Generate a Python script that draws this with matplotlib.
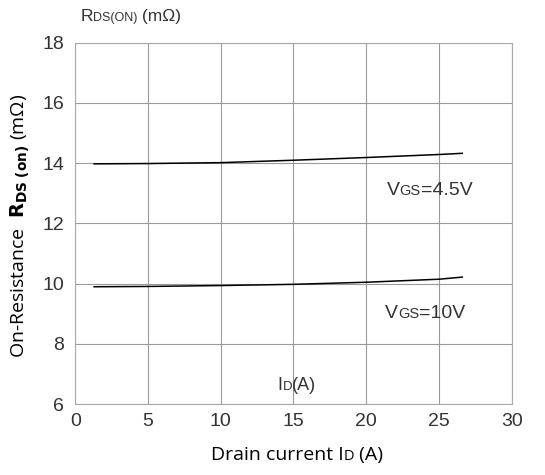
import numpy as np
import matplotlib
matplotlib.use("Agg")
import matplotlib.pyplot as plt
from matplotlib.offsetbox import TextArea, HPacker, AnnotationBbox

# drain current (A) and on-resistance (mOhm) for two gate voltages
id_45 = [1.3, 5, 10, 15, 20, 25, 26.6]
rds_45 = [13.98, 13.99, 14.02, 14.10, 14.19, 14.29, 14.33]
id_10 = [1.3, 5, 10, 15, 20, 25, 26.6]
rds_10 = [9.90, 9.91, 9.94, 9.98, 10.05, 10.15, 10.22]

xticks = [0, 5, 10, 15, 20, 25, 30]
yticks = [6, 8, 10, 12, 14, 16, 18]

plt.rcParams['font.family'] = ['Liberation Sans', 'DejaVu Sans']

fig = plt.figure(figsize=(5.45, 4.75), dpi=100)
ax = fig.add_axes([0.138, 0.149, 0.801, 0.761])

ax.plot(id_45, rds_45, color='black', lw=1.1)
ax.plot(id_10, rds_10, color='black', lw=1.1)

ax.set_xlim(0, 30)
ax.set_ylim(6, 18)
ax.set_xticks(xticks)
ax.set_yticks(yticks)
ax.tick_params(axis='y', length=0, labelsize=14, colors='#333333', pad=8)
ax.tick_params(axis='x', length=0, labelsize=14, colors='#333333', pad=6)
ax.grid(True, color='#9a9a9a', lw=0.8)
for s in ax.spines.values():
    s.set_color('#aaaaaa')
    s.set_linewidth(0.8)


def smallcaps(parts, xy, coords):
    # parts: list of (text, fontsize); packed on one baseline
    boxes = [TextArea(t, textprops=dict(fontsize=fs, color='#333333',
                                         family=['Liberation Sans', 'DejaVu Sans']))
             for t, fs in parts]
    pack = HPacker(children=boxes, align='baseline', pad=0, sep=0)
    ab = AnnotationBbox(pack, xy, xycoords=coords, frameon=False,
                        box_alignment=(0, 0.5), annotation_clip=False)
    ax.add_artist(ab)


smallcaps([('R', 12.5), ('DS(ON)', 9), (' (mΩ)', 12.5)], (0.012, 1.072), 'axes fraction')
smallcaps([('V', 14), ('GS', 10.5), ('=4.5V', 14)], (21.4, 13.1), 'data')
smallcaps([('V', 14), ('GS', 10.5), ('=10V', 14)], (21.3, 9.0), 'data')
smallcaps([('I', 13), ('D', 9.5), ('(A)', 13)], (13.9, 6.62), 'data')

# axis titles
xl = [TextArea('Drain current I', textprops=dict(fontsize=14, family=['Open Sans'])),
      TextArea('D', textprops=dict(fontsize=10.5, family=['Open Sans'])),
      TextArea(' (A)', textprops=dict(fontsize=14, family=['Open Sans']))]
xpack = HPacker(children=xl, align='baseline', pad=0, sep=0)
fig.add_artist(AnnotationBbox(xpack, (0.545, 0.042), xycoords='figure fraction',
                              frameon=False, box_alignment=(0.5, 0.5)))

fig.text(0.038, 0.525, r'On-Resistance  $\mathbf{R_{DS\ (on)}}$ (mΩ)', rotation=90,
         ha='center', va='center', fontsize=14, family=['Open Sans', 'DejaVu Sans'])

fig.savefig('out.png', dpi=100)
